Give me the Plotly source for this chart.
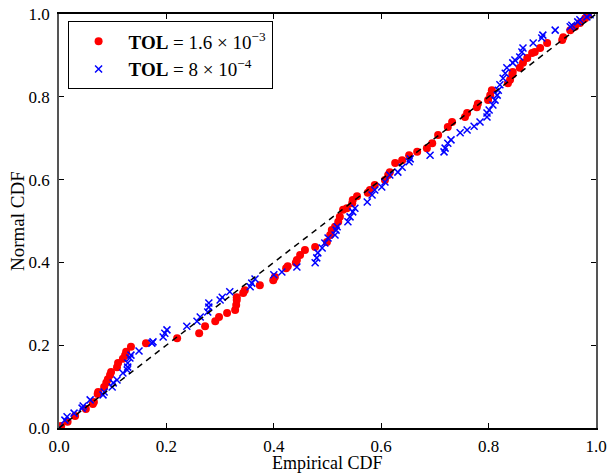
import plotly.graph_objects as go

# Red series: TOL = 1.6e-3 (empirical CDF, normal CDF)
red_x = [0.0, 0.004, 0.016, 0.030, 0.050, 0.063, 0.065, 0.072, 0.073, 0.084, 0.088, 0.091,
         0.095, 0.097, 0.108, 0.110, 0.119, 0.123, 0.125, 0.134, 0.162, 0.220, 0.261, 0.272,
         0.291, 0.298, 0.313, 0.328, 0.330, 0.331, 0.331, 0.343, 0.346, 0.374, 0.399, 0.402,
         0.423, 0.426, 0.441, 0.443, 0.449, 0.458, 0.477, 0.499, 0.505, 0.508, 0.514, 0.520,
         0.523, 0.529, 0.536, 0.546, 0.547, 0.555, 0.575, 0.579, 0.588, 0.607, 0.613, 0.616,
         0.626, 0.639, 0.652, 0.667, 0.685, 0.695, 0.706, 0.724, 0.732, 0.756, 0.760, 0.778,
         0.780, 0.799, 0.803, 0.806, 0.836, 0.840, 0.844, 0.845, 0.858, 0.864, 0.872, 0.881,
         0.886, 0.896, 0.909, 0.937, 0.939, 0.952, 0.961, 0.970, 0.980, 0.985]
red_y = [0.0, 0.005, 0.015, 0.029, 0.046, 0.058, 0.063, 0.082, 0.087, 0.099, 0.109, 0.118,
         0.128, 0.135, 0.147, 0.157, 0.167, 0.176, 0.184, 0.196, 0.205, 0.217, 0.229, 0.246,
         0.258, 0.268, 0.278, 0.285, 0.297, 0.309, 0.316, 0.326, 0.333, 0.345, 0.357, 0.365,
         0.386, 0.391, 0.399, 0.406, 0.418, 0.430, 0.437, 0.449, 0.466, 0.478, 0.486, 0.498,
         0.510, 0.527, 0.531, 0.543, 0.551, 0.560, 0.568, 0.575, 0.587, 0.599, 0.611, 0.618,
         0.640, 0.647, 0.659, 0.667, 0.676, 0.688, 0.708, 0.727, 0.739, 0.751, 0.761, 0.775,
         0.783, 0.792, 0.804, 0.816, 0.833, 0.841, 0.853, 0.860, 0.870, 0.882, 0.894, 0.906,
         0.908, 0.918, 0.930, 0.937, 0.944, 0.961, 0.969, 0.978, 0.990, 0.998]

# Blue series: TOL = 8e-4
blue_x = [0.0, 0.011, 0.015, 0.028, 0.043, 0.045, 0.058, 0.082, 0.084, 0.099, 0.101, 0.108,
          0.119, 0.127, 0.128, 0.128, 0.132, 0.134, 0.149, 0.173, 0.175, 0.194, 0.197, 0.201,
          0.238, 0.257, 0.263, 0.277, 0.279, 0.279, 0.300, 0.304, 0.318, 0.356, 0.359, 0.365,
          0.400, 0.415, 0.443, 0.477, 0.480, 0.482, 0.490, 0.495, 0.501, 0.514, 0.516, 0.518,
          0.538, 0.542, 0.547, 0.551, 0.574, 0.583, 0.588, 0.601, 0.607, 0.616, 0.631, 0.639,
          0.652, 0.654, 0.691, 0.717, 0.719, 0.724, 0.730, 0.747, 0.760, 0.773, 0.784, 0.797,
          0.797, 0.801, 0.808, 0.812, 0.816, 0.818, 0.821, 0.827, 0.831, 0.834, 0.845, 0.849,
          0.858, 0.862, 0.864, 0.883, 0.899, 0.901, 0.924, 0.952, 0.955, 0.966, 0.970, 0.983,
          0.989]
blue_y = [0.0, 0.019, 0.027, 0.036, 0.048, 0.053, 0.068, 0.080, 0.087, 0.099, 0.109, 0.116,
          0.133, 0.140, 0.147, 0.157, 0.169, 0.176, 0.186, 0.205, 0.208, 0.220, 0.229, 0.237,
          0.246, 0.258, 0.268, 0.280, 0.292, 0.302, 0.309, 0.316, 0.329, 0.341, 0.350, 0.360,
          0.370, 0.377, 0.389, 0.399, 0.411, 0.423, 0.435, 0.447, 0.459, 0.466, 0.478, 0.486,
          0.498, 0.510, 0.522, 0.531, 0.546, 0.563, 0.575, 0.582, 0.594, 0.611, 0.618, 0.630,
          0.643, 0.650, 0.659, 0.667, 0.676, 0.688, 0.696, 0.713, 0.720, 0.729, 0.739, 0.751,
          0.761, 0.768, 0.780, 0.792, 0.804, 0.816, 0.829, 0.845, 0.857, 0.870, 0.882, 0.889,
          0.896, 0.908, 0.918, 0.930, 0.942, 0.949, 0.961, 0.969, 0.973, 0.981, 0.986, 0.993,
          0.998]

ref_x = [0.0, 1.0]
ref_y = [0.0, 1.0]
tick_vals = [0.0, 0.2, 0.4, 0.6, 0.8, 1.0]
tick_text = ["0.0", "0.2", "0.4", "0.6", "0.8", "1.0"]
x_title = "Empirical CDF"
y_title = "Normal CDF"

FONT = "Liberation Serif, DejaVu Serif, serif"
NB = "\u00a0"

fig = go.Figure()
fig.add_trace(go.Scatter(
    x=red_x, y=red_y, mode="markers",
    name=f"<b>TOL</b>{NB}={NB}1.6{NB}×{NB}10<sup>−3</sup>",
    marker=dict(symbol="circle", size=8, color="#ff0000", line=dict(width=0)),
))
fig.add_trace(go.Scatter(
    x=blue_x, y=blue_y, mode="markers",
    name=f"<b>TOL</b>{NB}={NB}8{NB}×{NB}10<sup>−4</sup>",
    marker=dict(symbol="x-thin", size=7, color="#0000ff",
                line=dict(width=1.5, color="#0000ff")),
))
fig.add_trace(go.Scatter(
    x=ref_x, y=ref_y, mode="lines", showlegend=False,
    line=dict(color="black", width=1.5, dash="6px,5px"),
))

fig.update_layout(
    width=608, height=474,
    margin=dict(l=59, r=12, t=14, b=46, autoexpand=False),
    plot_bgcolor="white", paper_bgcolor="white",
    font=dict(family=FONT, size=17, color="black"),
    showlegend=True,
    legend=dict(x=0.016, y=0.982, xanchor="left", yanchor="top",
                bgcolor="white", bordercolor="black", borderwidth=1,
                font=dict(family=FONT, size=19), itemwidth=50,
                tracegroupgap=0),
    xaxis=dict(range=[0, 1], tickvals=tick_vals, ticktext=tick_text,
               showgrid=False, zeroline=False, showline=True, linecolor="black",
               linewidth=1.5, mirror="ticks", ticks="inside", ticklen=5,
               tickcolor="black", tickfont=dict(size=17), automargin=False,
               ticklabelstandoff=2),
    yaxis=dict(range=[0, 1], tickvals=tick_vals, ticktext=tick_text,
               showgrid=False, zeroline=False, showline=True, linecolor="#555555",
               linewidth=1.5, mirror="ticks", ticks="inside", ticklen=5,
               tickcolor="black", tickfont=dict(size=17), automargin=False,
               ticklabelstandoff=4),
    annotations=[
        dict(text=x_title, x=0.5, y=0, xref="paper", yref="paper",
             xanchor="center", yanchor="top", yshift=-24, borderpad=0,
             showarrow=False, font=dict(family=FONT, size=18)),
        dict(text=y_title, x=0, y=0.5, xref="paper", yref="paper",
             xanchor="center", yanchor="middle", xshift=-42, textangle=-90,
             showarrow=False, font=dict(family=FONT, size=19)),
    ],
)

fig.write_html("out.html")
